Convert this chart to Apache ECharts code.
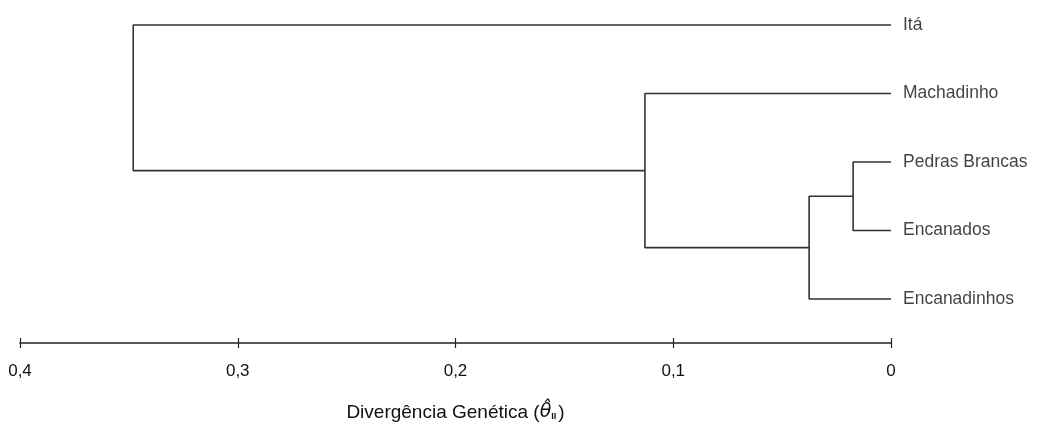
<!DOCTYPE html>
<html><head><meta charset="utf-8">
<script src="https://cdn.jsdelivr.net/npm/echarts@6/dist/echarts.min.js"></script>
<style>html,body{margin:0;padding:0;background:#fff}#c{width:1060px;height:428px}</style>
</head><body><div id="c"></div>
<script>
// Leaves (top to bottom)
const leaves = ['Itá', 'Machadinho', 'Pedras Brancas', 'Encanados', 'Encanadinhos'];
// Merges: [childA, childB, height]; new nodes get indices 5, 6, 7, 8
const mergeA = [2, 5, 1, 0];
const mergeB = [3, 4, 6, 7];
const mergeHeight = [0.0174, 0.0376, 0.113, 0.348];
const tickValues = [0, 0.1, 0.2, 0.3, 0.4];

const FONT = 'Liberation Sans, Arial, sans-serif';
const nodeX = leaves.map(() => 0);
const nodeY = leaves.map((_, i) => i);
const series = [];
for (let k = 0; k < mergeHeight.length; k++) {
  const a = mergeA[k], b = mergeB[k], h = mergeHeight[k];
  series.push({
    type: 'line', silent: true, showSymbol: false, animation: false,
    xAxisIndex: 0, yAxisIndex: 0,
    lineStyle: { color: '#333', width: 1.6 },
    data: [[nodeX[a], nodeY[a]], [h, nodeY[a]], [h, nodeY[b]], [nodeX[b], nodeY[b]]]
  });
  nodeX.push(h);
  nodeY.push((nodeY[a] + nodeY[b]) / 2);
}
series.push({
  type: 'scatter', symbolSize: 0, silent: true, animation: false,
  xAxisIndex: 0, yAxisIndex: 0,
  data: leaves.map((n, i) => ({ value: [0, i], name: n })),
  label: { show: true, position: 'right', distance: 12, formatter: p => p.name,
           color: '#111', fontSize: 17.5, fontFamily: FONT }
});

const fmt = v => String(Math.round(v * 10) / 10).replace('.', ',');
const grid = { left: 20, right: 169, top: 0, bottom: 85 };
const chart = echarts.init(document.getElementById('c'));
chart.setOption({
  backgroundColor: '#fff',
  grid: [grid, Object.assign({}, grid)],
  xAxis: [{
    gridIndex: 0, type: 'value', inverse: true, min: 0, max: 0.4, interval: 0.1, position: 'bottom',
    splitLine: { show: false },
    axisLine: { show: true, onZero: false, lineStyle: { color: '#222', width: 1.6 } },
    axisTick: { show: true, length: 5, lineStyle: { color: '#222', width: 1.2 } },
    axisLabel: { formatter: fmt, color: '#111', fontSize: 17, margin: 20, fontFamily: FONT },
    name: 'Divergência Genética ({t|θ̂}{s|II})',
    nameLocation: 'middle', nameGap: 60,
    nameTextStyle: { color: '#111', fontSize: 19, fontFamily: FONT,
      rich: { t: { fontSize: 19, fontStyle: 'italic', color: '#111', fontFamily: 'DejaVu Sans' },
              s: { fontSize: 9, fontWeight: 'bold', color: '#111', padding: [9, 2, 0, 0] } } }
  }, {
    gridIndex: 1, type: 'value', inverse: true, min: 0, max: 0.4, interval: 0.1, position: 'bottom',
    splitLine: { show: false }, axisLine: { show: false, onZero: false },
    axisTick: { show: true, inside: true, length: 5, lineStyle: { color: '#222', width: 1.2 } },
    axisLabel: { show: false }
  }],
  yAxis: [
    { gridIndex: 0, type: 'value', inverse: true, min: -0.365, max: 4.642, show: false },
    { gridIndex: 1, type: 'value', inverse: true, min: -0.365, max: 4.642, show: false }
  ],
  series: series
});
</script></body></html>
